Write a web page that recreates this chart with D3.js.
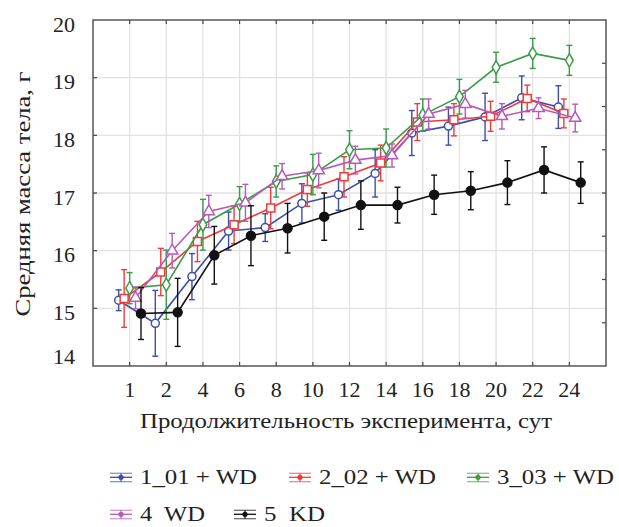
<!DOCTYPE html>
<html>
<head>
<meta charset="utf-8">
<script src="https://cdn.jsdelivr.net/npm/d3@7"></script>
</head>
<body style="margin:0">
<svg id="chart" width="619" height="527"></svg>
<script>
// day labels on the x axis (evenly spaced categories)
const days = ["1", "2", "4", "6", "8", "10", "12", "14", "16", "18", "20", "22", "24"];
const yTicks = [14, 15, 16, 17, 18, 19, 20];

// mean body mass per group, g
const g1 = [15.14, 14.74, 15.55, 16.34, 16.40, 16.82, 16.97, 17.34, 18.04, 18.16, 18.32, 18.65, 18.49];
const g1Err = [0.18, 0.57, 0.40, 0.33, 0.24, 0.34, 0.27, 0.41, 0.39, 0.33, 0.41, 0.38, 0.37];
const g2 = [15.17, 15.63, 16.16, 16.45, 16.74, 17.06, 17.28, 17.52, 18.23, 18.27, 18.33, 18.64, 18.38];
const g2Err = [0.50, 0.41, 0.35, 0.33, 0.36, 0.29, 0.35, 0.31, 0.32, 0.28, 0.26, 0.23, 0.25];
const g3 = [15.35, 15.41, 16.45, 16.81, 17.20, 17.32, 17.75, 17.78, 18.35, 18.67, 19.18, 19.42, 19.30];
const g3Err = [0.27, 0.60, 0.44, 0.30, 0.27, 0.35, 0.33, 0.33, 0.28, 0.30, 0.26, 0.26, 0.26];
const g4 = [15.18, 16.00, 16.68, 16.83, 17.29, 17.39, 17.57, 17.65, 18.37, 18.54, 18.33, 18.47, 18.30];
const g4Err = [0.19, 0.30, 0.28, 0.32, 0.22, 0.30, 0.24, 0.20, 0.26, 0.24, 0.22, 0.18, 0.24];
const g5 = [14.91, 14.93, 15.92, 16.26, 16.39, 16.59, 16.79, 16.79, 16.97, 17.04, 17.18, 17.40, 17.18];
const g5Err = [0.45, 0.59, 0.50, 0.52, 0.43, 0.41, 0.42, 0.31, 0.34, 0.33, 0.38, 0.40, 0.36];

const seriesNames = ["1_01 + WD", "2_02 + WD", "3_03 + WD", "4  WD", "5  KD"];

const series = [
  { name: seriesNames[0], vals: g1, err: g1Err, color: "#3d4fa8", shift: -0.3, marker: "circle", fill: "#fff" },
  { name: seriesNames[1], vals: g2, err: g2Err, color: "#ef3b3b", shift: -0.15, marker: "square", fill: "#fff" },
  { name: seriesNames[2], vals: g3, err: g3Err, color: "#3a9b48", shift: 0, marker: "diamond", fill: "#fff" },
  { name: seriesNames[3], vals: g4, err: g4Err, color: "#b65ab6", shift: 0.16, marker: "triangle", fill: "#fff" },
  { name: seriesNames[4], vals: g5, err: g5Err, color: "#111", shift: 0.31, marker: "circle", fill: "#111" }
];

const FONT = "Liberation Serif";
const margin = { top: 20, right: 13, bottom: 161, left: 93 };
const W = 619, H = 527;
const width = W - margin.left - margin.right;
const height = H - margin.top - margin.bottom;

const svg = d3.select("#chart");
const chart = svg.append("g").attr("transform", "translate(" + margin.left + "," + margin.top + ")");

const x = d3.scaleLinear().domain([0, days.length + 1]).range([0, width]);
const y = d3.scaleLinear().domain([14, 20]).range([height, 0]);
const yRight = d3.scaleLinear().domain([0, 8]).range([height, 0]);

function label(sel, size) {
  return sel.attr("font-family", FONT).attr("font-size", size).attr("fill", "#222")
      .attr("xml:space", "preserve");
}
function tickLine(g, x1, y1, x2, y2) {
  g.append("line").attr("x1", x1).attr("y1", y1).attr("x2", x2).attr("y2", y2)
      .attr("stroke", "#444").attr("stroke-width", 1.2);
}

// grid
const grid = chart.append("g").attr("stroke", "#e2e2e2").attr("stroke-width", 1.3);
grid.selectAll("line.v").data(days).enter().append("line")
    .attr("x1", (d, i) => x(i + 1)).attr("x2", (d, i) => x(i + 1))
    .attr("y1", 0).attr("y2", height);
grid.selectAll("line.h").data(yTicks.slice(1, -1)).enter().append("line")
    .attr("x1", 0).attr("x2", width)
    .attr("y1", d => y(d)).attr("y2", d => y(d));

// inward tick marks on all four sides
const ticks = chart.append("g");
days.forEach((d, i) => {
  tickLine(ticks, x(i + 1), 0, x(i + 1), 4);
  tickLine(ticks, x(i + 1), height, x(i + 1), height - 4);
});
yTicks.slice(1, -1).forEach(v => tickLine(ticks, 0, y(v), 4, y(v)));
d3.range(1, 8).forEach(v => tickLine(ticks, width, yRight(v), width - 4, yRight(v)));

chart.append("rect").attr("width", width).attr("height", height)
    .attr("fill", "none").attr("stroke", "#555").attr("stroke-width", 1.5);

// tick labels
label(chart.selectAll("text.xl").data(days).enter().append("text"), 22)
    .attr("text-anchor", "middle")
    .attr("x", (d, i) => x(i + 1)).attr("y", height + 31)
    .text(d => d);
label(chart.selectAll("text.yl").data(yTicks).enter().append("text"), 22)
    .attr("text-anchor", "end")
    .attr("x", -18).attr("y", d => Math.min(y(d) + 4, height - 10))
    .attr("dy", "0.35em")
    .text(d => d);

// axis titles
label(svg.append("text"), 22).attr("text-anchor", "middle")
    .attr("transform", "translate(" + 30 + "," + 194 + ") rotate(-90)")
    .attr("textLength", 245).attr("lengthAdjust", "spacingAndGlyphs")
    .text("Средняя масса тела, г");
label(svg.append("text"), 22).attr("text-anchor", "middle")
    .attr("x", 346).attr("y", 428)
    .attr("textLength", 412).attr("lengthAdjust", "spacingAndGlyphs")
    .text("Продолжительность эксперимента, сут");

function drawMarker(g, type, color, fill, size) {
  if (type === "circle") {
    g.append("circle").attr("r", size).attr("fill", fill).attr("stroke", color).attr("stroke-width", 1.5);
  } else {
    const sym = type === "square" ? d3.symbolSquare : type === "diamond" ? d3.symbolDiamond : d3.symbolTriangle;
    const area = type === "square" ? size * size * 4 : type === "diamond" ? size * size * 3.2 : size * size * 3.4;
    g.append("path").attr("d", d3.symbol().type(sym).size(area)())
        .attr("fill", fill).attr("stroke", color).attr("stroke-width", 1.5);
  }
}

const line = d3.line().x(d => d.x).y(d => d.y);

series.forEach(s => {
  const pts = s.vals.map((v, i) => ({ x: x(i + 1 + s.shift), y: y(v), lo: y(v - s.err[i]), hi: y(v + s.err[i]) }));
  const g = chart.append("g");
  g.append("path").attr("fill", "none").attr("stroke-width", 1.6).attr("stroke", s.color).attr("d", line(pts));
  const eb = g.selectAll("g.eb").data(pts).enter().append("g")
      .attr("stroke", s.color).attr("stroke-width", 1.4);
  eb.append("line").attr("x1", d => d.x).attr("x2", d => d.x).attr("y1", d => d.lo).attr("y2", d => d.hi);
  eb.append("line").attr("x1", d => d.x - 3).attr("x2", d => d.x + 3).attr("y1", d => d.lo).attr("y2", d => d.lo);
  eb.append("line").attr("x1", d => d.x - 3).attr("x2", d => d.x + 3).attr("y1", d => d.hi).attr("y2", d => d.hi);
  pts.forEach(p => {
    const mg = g.append("g").attr("transform", "translate(" + p.x + "," + p.y + ")");
    drawMarker(mg, s.marker, s.color, s.fill, s.marker === "circle" && s.fill !== "#fff" ? 4.5 : 4);
  });
});

// legend
const legendPos = [[110, 479], [289, 479], [467, 479], [110, 516], [234, 516]];
const legendWidth = [117, 117, 117, 65, 61];
series.forEach((s, i) => {
  const lg = svg.append("g").attr("transform", "translate(" + legendPos[i][0] + "," + legendPos[i][1] + ")");
  [-5.7, -1.7, 2.7].forEach((dy, k) => {
    lg.append("line").attr("x1", 0).attr("x2", 22).attr("y1", dy).attr("y2", dy)
        .attr("stroke", s.color).attr("stroke-width", 1.3).attr("opacity", k === 1 ? 1 : 0.6);
  });
  lg.append("line").attr("x1", 11).attr("x2", 11).attr("y1", -5.7).attr("y2", 2.7)
      .attr("stroke", s.color).attr("stroke-width", 1.2);
  lg.append("circle").attr("cx", 11).attr("cy", -1.7).attr("r", 2.6).attr("fill", s.color);
  label(lg.append("text"), 21).attr("x", 30).attr("y", 5)
      .attr("textLength", legendWidth[i]).attr("lengthAdjust", "spacingAndGlyphs")
      .text(s.name);
});
</script>
</body>
</html>
